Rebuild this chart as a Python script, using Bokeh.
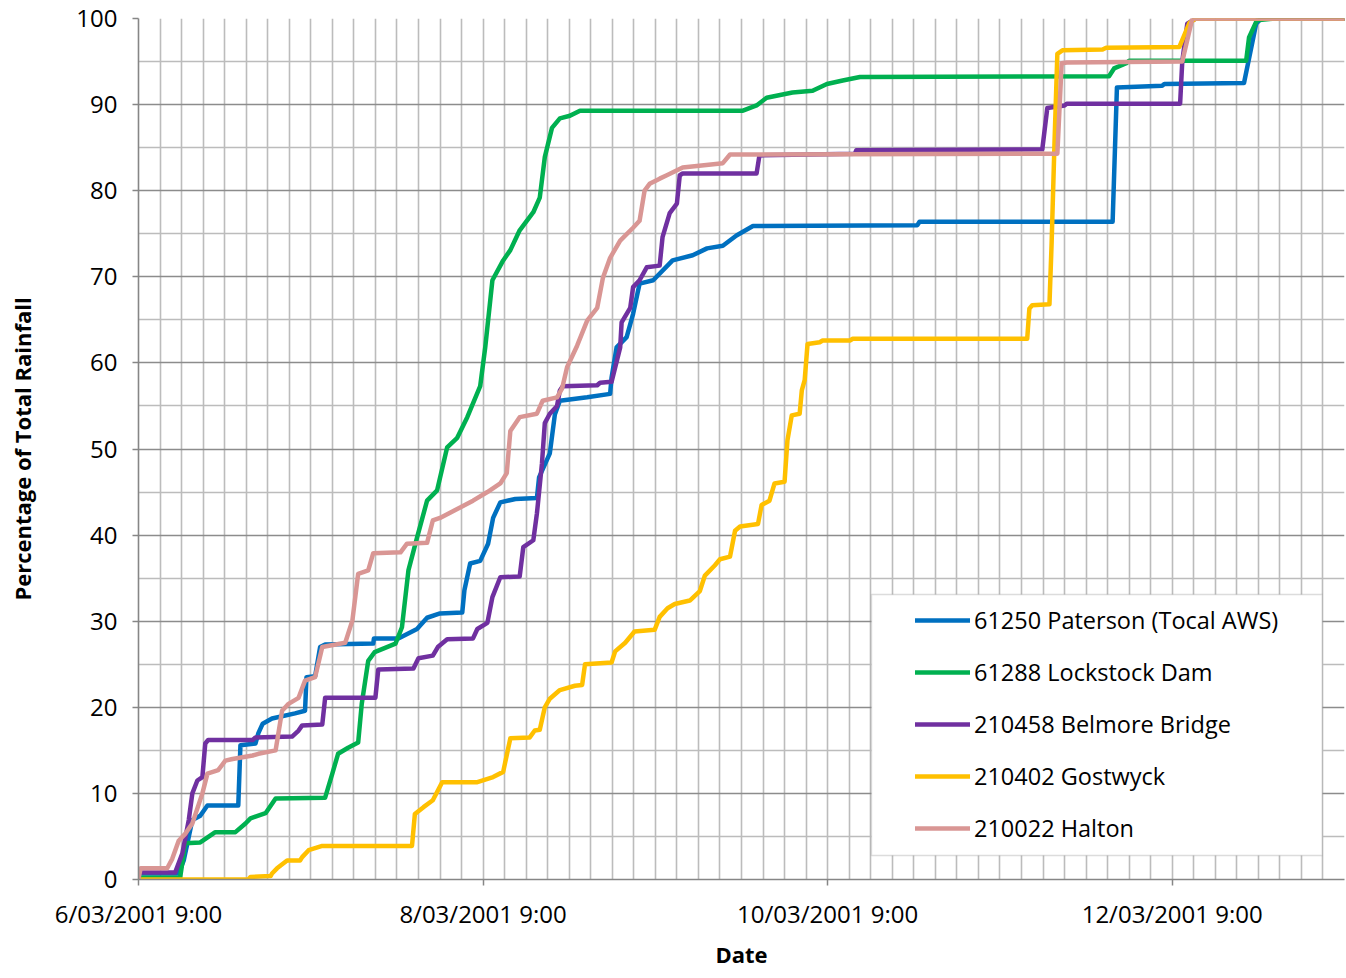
from bokeh.plotting import figure
from bokeh.models import Range1d, FixedTicker, Grid, Legend, LegendItem, BoxAnnotation
from bokeh.embed import file_html
from bokeh.resources import INLINE

# x = hours after 6/03/2001 9:00, y = percentage of total rainfall
tick_hours = [0, 48, 96, 144]
tick_labels = ["6/03/2001 9:00", "8/03/2001 9:00", "10/03/2001 9:00", "12/03/2001 9:00"]

series_names = ["61250 Paterson (Tocal AWS)", "61288 Lockstock Dam",
                "210458 Belmore Bridge", "210402 Gostwyck", "210022 Halton"]
series_colors = ["#0070C0", "#00B050", "#7030A0", "#FFC000", "#D99694"]

paterson_h = [0, 5.6, 6.3, 7.5, 8.6, 9.6, 13.9, 14.2, 16.3, 16.7, 17.3, 18.6, 21.8, 23.2, 23.4,
              24.6, 25.3, 26.0, 32.7, 32.8, 36.2, 38.8, 40.2, 42.0, 45.1, 45.4, 46.2, 47.6, 48.7,
              49.4, 50.4, 52.5, 55.5, 55.8, 57.3, 58.0, 58.7, 62.5, 65.7, 65.9, 66.6, 68.0, 68.9,
              69.8, 71.7, 74.4, 77.2, 79.2, 81.4, 83.3, 85.6, 108.5, 108.8, 135.7, 136.3, 142.6,
              142.9, 154.0, 155.7, 156.4, 168]
paterson_v = [0.7, 0.7, 2.2, 6.9, 7.4, 8.6, 8.6, 15.6, 15.8, 17.0, 18.1, 18.7, 19.3, 19.6, 23.5,
              23.6, 27.0, 27.3, 27.4, 28.0, 28.0, 29.1, 30.4, 30.9, 31.0, 33.6, 36.7, 37.0, 39.0,
              42.0, 43.8, 44.2, 44.3, 46.7, 49.5, 54.0, 55.6, 56.0, 56.4, 58.3, 61.8, 63.0, 65.7,
              69.2, 69.6, 71.9, 72.5, 73.3, 73.6, 74.8, 75.9, 76.0, 76.4, 76.4, 92.0, 92.2,
              92.4, 92.5, 99.4, 100, 100]

lockstock_h = [0, 5.8, 6.5, 8.6, 10.7, 13.5, 14.9, 15.6, 17.7, 19.1, 26.0, 27.0, 27.8, 29.2, 30.6,
               31.1, 32.0, 32.9, 35.8, 36.7, 37.6, 38.8, 40.2, 41.6, 43.0, 44.4, 45.8, 47.6, 48.3,
               49.3, 50.8, 51.8, 53.1, 55.0, 55.9, 56.6, 57.6, 58.7, 60.1, 61.5, 84.2, 86.1, 87.5,
               91.1, 93.9, 95.9, 98.1, 100.5, 135.2, 135.9, 137.6, 138.0, 154.3, 154.7, 155.8,
               158.2, 168]
lockstock_v = [0.2, 0.2, 4.2, 4.3, 5.5, 5.5, 6.5, 7.1, 7.7, 9.4, 9.5, 12.3, 14.6, 15.3, 15.9,
               20.4, 25.4, 26.4, 27.4, 29.3, 35.9, 39.7, 44.0, 45.2, 50.2, 51.3, 53.7, 57.3, 61.8,
               69.6, 71.9, 73.1, 75.4, 77.5, 79.2, 83.9, 87.3, 88.4, 88.7, 89.3, 89.3, 89.9, 90.8,
               91.4, 91.6, 92.4, 92.8, 93.2, 93.3, 94.2, 94.8, 95.1, 95.1, 97.8, 99.8, 100, 100]

belmore_h = [0, 5.1, 6.1, 7.0, 7.5, 8.2, 8.9, 9.3, 9.7, 15.9, 16.3, 21.4, 22.3, 22.8, 25.6, 26.0,
             33.0, 33.4, 38.3, 39.0, 41.0, 41.7, 43.0, 46.6, 47.2, 48.6, 49.3, 50.4, 53.1, 53.6,
             55.0, 55.5, 56.2, 56.6, 57.3, 58.3, 58.7, 59.1, 63.9, 64.3, 65.9, 67.1, 67.3, 68.5,
             68.9, 69.8, 70.8, 72.6, 73.0, 74.0, 75.0, 75.4, 75.8, 86.1, 86.5, 99.8, 100.0, 125.9,
             126.6, 129.0, 129.3, 145.1, 145.4, 146.1, 147.3, 168]
belmore_v = [0.8, 0.8, 3.0, 6.9, 10.0, 11.5, 11.9, 15.8, 16.2, 16.2, 16.5, 16.6, 17.3, 17.9, 18.0,
             21.1, 21.1, 24.4, 24.5, 25.7, 26.0, 27.0, 27.9, 28.0, 29.1, 29.8, 32.8, 35.1, 35.2,
             38.6, 39.4, 42.5, 48.3, 53.0, 54.1, 55.0, 56.8, 57.3, 57.4, 57.7, 57.8, 61.8, 64.7,
             66.4, 68.8, 69.6, 71.1, 71.3, 74.6, 77.4, 78.5, 81.8, 82.0, 82.0, 84.1, 84.3, 84.7,
             84.8, 89.6, 89.9, 90.1, 90.1, 95.0, 99.4, 100, 100]

gostwyck_h = [0, 15.3, 15.6, 18.4, 18.6, 19.3, 20.7, 22.5, 22.8, 23.7, 25.6, 38.1, 38.5, 39.7, 41.0,
              42.3, 47.2, 49.4, 50.8, 51.8, 54.5, 55.2, 55.9, 56.6, 57.3, 58.7, 60.8, 61.8, 62.2,
              65.9, 66.4, 67.8, 69.1, 71.9, 72.6, 73.7, 74.7, 76.8, 78.2, 78.9, 80.3, 81.0, 82.4,
              83.1, 83.8, 86.3, 86.8, 87.9, 88.6, 90.0, 90.4, 91.0, 92.1, 92.4, 92.8, 93.2, 94.9,
              95.3, 99.1, 99.5, 123.8, 124.1, 124.5, 126.9, 127.2, 127.6, 128.0, 128.7, 134.3,
              134.8, 145.0, 146.4, 147.3, 168]
gostwyck_v = [0, 0, 0.3, 0.4, 0.7, 1.3, 2.2, 2.2, 2.6, 3.4, 3.9, 3.9, 7.6, 8.4, 9.2,
              11.3, 11.3, 11.9, 12.5, 16.4, 16.5, 17.3, 17.4, 20.0, 21.0, 22.0, 22.5, 22.6, 25.0,
              25.2, 26.5, 27.5, 28.8, 29.0, 30.5, 31.5, 32.0, 32.4, 33.5, 35.3, 36.5, 37.2, 37.5,
              40.5, 41.0, 41.3, 43.5, 44.0, 46.0, 46.2, 51.0, 53.9, 54.1, 56.8, 58.0, 62.2, 62.4,
              62.6, 62.6, 62.8, 62.8, 66.3, 66.7, 66.8, 73.9, 85.5, 95.9, 96.3, 96.4,
              96.6, 96.7, 99.5, 100, 100]

halton_h = [0, 0.3, 4.0, 4.7, 5.6, 6.5, 7.5, 8.9, 9.6, 11.1, 12.1, 13.1, 15.9, 16.7, 19.1, 20.0,
            20.9, 22.3, 23.2, 24.6, 25.6, 28.8, 29.8, 30.6, 32.0, 32.7, 36.5, 37.4, 40.2, 41.0,
            42.0, 43.4, 44.8, 46.6, 48.6, 50.4, 51.3, 51.8, 53.1, 55.5, 56.3, 58.3, 59.0, 59.7,
            61.1, 62.5, 63.9, 64.7, 65.7, 67.1, 68.9, 69.8, 70.5, 71.2, 72.6, 73.6, 75.8, 81.4,
            82.4, 128.0, 128.6, 129.3, 145.4, 146.8, 168]
halton_v = [0.1, 1.3, 1.3, 2.4, 4.5, 5.3, 6.5, 10.0, 12.3, 12.7, 13.8, 14.0, 14.4, 14.6, 15.0, 19.6,
            20.4, 21.1, 23.1, 23.5, 27.0, 27.5, 30.1, 35.5, 35.9, 37.9, 38.0, 39.0, 39.1, 41.7,
            42.0, 42.6, 43.2, 44.0, 45.0, 46.0, 47.2, 52.1, 53.7, 54.1, 55.6, 56.0, 57.0, 59.5,
            62.0, 64.9, 66.4, 69.9, 72.2, 74.2, 75.7, 76.5, 80.0, 80.8, 81.4, 81.8, 82.7, 83.2,
            84.2, 84.3, 94.8, 94.9, 95.0, 100, 100]

series_h = [paterson_h, lockstock_h, belmore_h, gostwyck_h, halton_h]
series_v = [paterson_v, lockstock_v, belmore_v, gostwyck_v, halton_v]

FONT = "Open Sans"

p = figure(width=1346, height=975, output_backend="svg", toolbar_location=None,
           x_range=Range1d(0, 168), y_range=Range1d(0, 100),
           min_border_left=138, min_border_right=2, min_border_top=18, min_border_bottom=96)
p.background_fill_color = "white"
p.border_fill_color = "white"
p.outline_line_color = None

# grids
p.xgrid.ticker = FixedTicker(ticks=list(range(0, 169, 3)))
p.xgrid.grid_line_color = "#bcbcbc"
p.xgrid.grid_line_width = 1.6
p.ygrid.ticker = FixedTicker(ticks=list(range(0, 101, 10)))
p.ygrid.grid_line_color = "#8c8c8c"
p.ygrid.grid_line_width = 1.6
minor = Grid(dimension=1, ticker=FixedTicker(ticks=list(range(5, 100, 10))),
             grid_line_color="#bcbcbc", grid_line_width=1.6)
p.add_layout(minor, "center")

# axes
p.xaxis.ticker = FixedTicker(ticks=tick_hours)
p.xaxis.major_label_overrides = {h: lab for h, lab in zip(tick_hours, tick_labels)}
p.yaxis.ticker = FixedTicker(ticks=list(range(0, 101, 10)))
for ax in (p.xaxis[0], p.yaxis[0]):
    ax.axis_line_color = "#868686"
    ax.axis_line_width = 1.6
    ax.major_tick_line_color = "#868686"
    ax.major_tick_line_width = 1.5
    ax.major_tick_in = 0
    ax.major_tick_out = 6
    ax.minor_tick_line_color = None
    ax.major_label_text_font = FONT
    ax.major_label_text_font_size = "24px"
    ax.major_label_text_color = "black"
    ax.axis_label_text_font = FONT
    ax.axis_label_text_font_size = "22px"
    ax.axis_label_text_font_style = "bold"
    ax.axis_label_text_color = "black"
p.xaxis.axis_label = "Date"
p.yaxis.axis_label = "Percentage of Total Rainfall"
p.xaxis.major_label_standoff = 11
p.xaxis.axis_label_standoff = 6
p.yaxis.major_label_standoff = 15
p.yaxis.axis_label_standoff = 36

renderers = []
for h, v, c in zip(series_h, series_v, series_colors):
    r = p.line(h, v, line_color=c, line_width=4.5, line_join="round", line_cap="round")
    renderers.append(r)

# legend frame
box = BoxAnnotation(left=102.1, right=164.9, bottom=2.8, top=33.1,
                    fill_color="white", fill_alpha=1.0,
                    line_color="#8c8c8c", line_width=1.5)
p.add_layout(box)

legend = Legend(items=[LegendItem(label=n, renderers=[r]) for n, r in zip(series_names, renderers)],
                location=(777, 25), padding=0, margin=0, spacing=0,
                glyph_width=55, glyph_height=52, label_height=52, label_standoff=4,
                label_text_font=FONT, label_text_font_size="23.5px", label_text_color="black",
                border_line_color=None, background_fill_alpha=0)
p.add_layout(legend, "center")

open("out.html", "w").write(file_html(p, INLINE))
